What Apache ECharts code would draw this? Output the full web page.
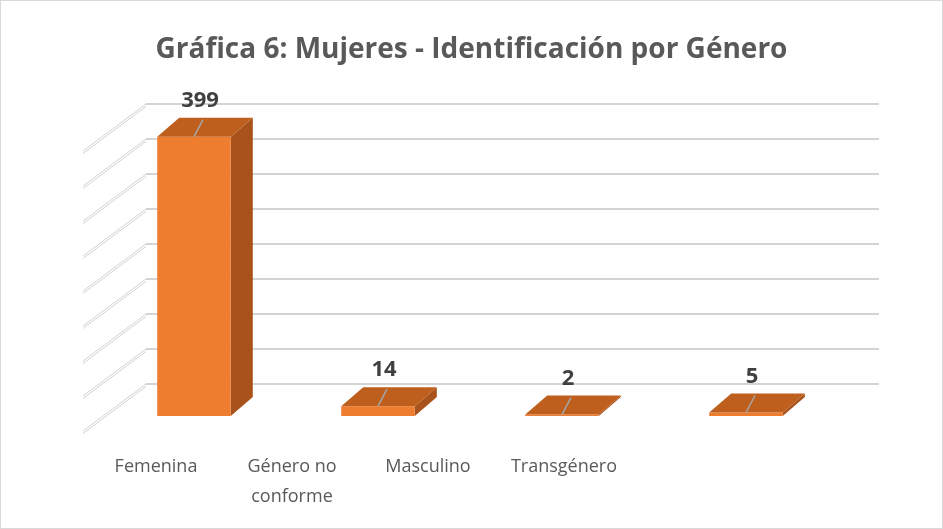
<!DOCTYPE html>
<html>
<head>
<meta charset="utf-8">
<script src="https://cdn.jsdelivr.net/npm/echarts@6/dist/echarts.min.js"></script>
<style>
  html, body { margin: 0; padding: 0; background: #fff; }
  #chart { width: 941px; height: 527px; border: 1px solid #d9d9d9; }
</style>
</head>
<body>
<div id="chart"></div>
<script>
const categories = ['Femenina', 'Género no\nconforme', 'Masculino', 'Transgénero']
const values = [399, 14, 2, 5]
const gridTicks = [0, 50, 100, 150, 200, 250, 300, 350, 400]

// 3d look: offset of bar depth and of the side wall, in pixels
const depthX = 22
const depthY = -19
const wallX = -63
const wallY = 47

const myChart = echarts.init(document.getElementById('chart'))

function renderBar(params, api) {
  const i = api.value(0)
  const v = api.value(1)
  const base = api.coord([i, 0])
  const top = api.coord([i, v])
  const w = api.size([1, 0])[0] * 0.4
  const x0 = base[0] - w / 2
  const x1 = base[0] + w / 2
  const yb = base[1]
  const yt = top[1]
  return {
    type: 'group',
    children: [
      {
        type: 'polygon',
        shape: { points: [[x1, yb], [x1 + depthX, yb + depthY], [x1 + depthX, yt + depthY], [x1, yt]] },
        style: { fill: '#a9521b' }
      },
      {
        type: 'rect',
        shape: { x: x0, y: yt, width: w, height: yb - yt },
        style: { fill: '#ee7d30' }
      },
      {
        type: 'polygon',
        shape: { points: [[x0, yt], [x1, yt], [x1 + depthX, yt + depthY], [x0 + depthX, yt + depthY]] },
        style: { fill: '#be5f1e' }
      },
      {
        type: 'line',
        shape: { x1: base[0], y1: yt, x2: base[0] + 9, y2: yt + depthY + 2 },
        style: { stroke: '#a6a6a6', lineWidth: 1.5 }
      },
      {
        type: 'text',
        x: base[0] + 6,
        y: yt + depthY - 17,
        style: {
          text: String(v),
          fill: '#404040',
          font: 'bold 22px "Open Sans"',
          align: 'center',
          verticalAlign: 'middle'
        }
      }
    ]
  }
}

function renderWall(params, api) {
  const p = api.coord([0, api.value(0)])
  return {
    type: 'group',
    children: [0, 2.5].map(d => ({
      type: 'line',
      shape: { x1: p[0], y1: p[1] + d, x2: p[0] + wallX, y2: p[1] + wallY + d },
      style: { stroke: '#d2d2d2', lineWidth: 1 }
    }))
  }
}

myChart.setOption({
  animation: false,
  title: {
    text: 'Gráfica 6: Mujeres - Identificación por Género',
    left: 'center',
    top: 30,
    textStyle: { fontFamily: 'Open Sans', fontSize: 28, fontWeight: 'bold', color: '#595959' }
  },
  grid: [
    // back wall
    { left: 145, right: 63, top: 103, height: 280 },
    // front plane of the bars
    { left: 101, width: 736, top: 135, height: 280 },
    // category labels along the floor edge
    { left: 87, width: 544, top: 100, height: 345 }
  ],
  xAxis: [
    { gridIndex: 0, type: 'value', min: 0, max: 1, show: false },
    { gridIndex: 1, type: 'category', data: categories, show: false },
    {
      gridIndex: 2,
      type: 'category',
      data: categories,
      axisLine: { show: false },
      axisTick: { show: false },
      axisLabel: { interval: 0, margin: 6, fontFamily: 'Open Sans', fontSize: 18, lineHeight: 30, color: '#595959' }
    }
  ],
  yAxis: [
    {
      gridIndex: 0,
      type: 'value',
      min: 0,
      max: 400,
      interval: 50,
      axisLine: { show: false },
      axisTick: { show: false },
      axisLabel: { show: false },
      splitLine: { lineStyle: { color: '#d4d4d4', width: 2 } }
    },
    { gridIndex: 1, type: 'value', min: 0, max: 400, show: false },
    { gridIndex: 2, type: 'value', show: false }
  ],
  series: [
    {
      type: 'custom',
      xAxisIndex: 0,
      yAxisIndex: 0,
      data: gridTicks.map(t => [t]),
      renderItem: renderWall,
      silent: true
    },
    {
      type: 'custom',
      xAxisIndex: 1,
      yAxisIndex: 1,
      z: 5,
      data: values.map((v, i) => [i, v]),
      renderItem: renderBar
    }
  ]
})
</script>
</body>
</html>
